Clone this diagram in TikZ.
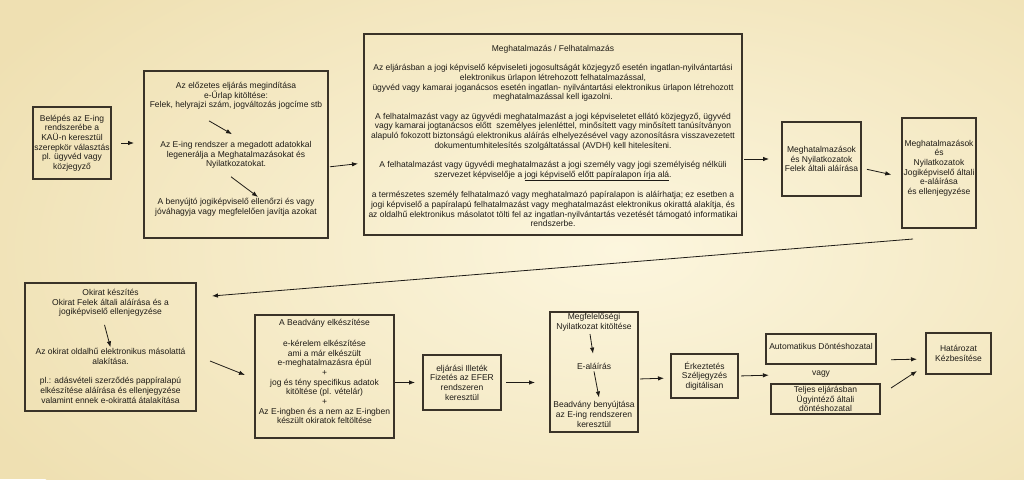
\documentclass[tikz,border=0pt]{standalone}
\usepackage{fontspec}
\setmainfont{Liberation Sans}
\usetikzlibrary{arrows.meta}
\definecolor{bgin}{HTML}{FCF6DE}
\definecolor{bgout}{HTML}{EFE0B2}
\definecolor{edgec}{HTML}{3A3328}
\definecolor{ink}{HTML}{1E1B16}
\begin{document}
\begin{tikzpicture}[x=1pt,y=-1pt,
  box/.style={draw=edgec,line width=1.3pt,rectangle,inner sep=0pt,outer sep=0pt,
    text=ink,align=center,font=\fontsize{8.5}{9.65}\selectfont},
  txt/.style={text=ink,align=center,inner sep=0pt,font=\fontsize{8.5}{9.65}\selectfont},
  arr/.style={draw=ink,line width=0.8pt,-{Latex[length=6pt,width=4.5pt]}},
]
\useasboundingbox (0,0) rectangle (1024,479);
\begin{scope}
\clip (0,0) rectangle (1024,479);
\fill[bgout] (0,0) rectangle (1024,479);
\shade[inner color=bgin,outer color=bgout] (620,250) ellipse [x radius=720, y radius=380];
\end{scope}

% top row
\node[box,minimum width=78pt,minimum height=72pt] (b1) at (72,143)
  {Belépés az E-ing\\rendszerébe a\\KAÜ-n keresztül\\szerepkör választás\\pl. ügyvéd vagy\\közjegyző};

\node[box,minimum width=184pt,minimum height=167pt] (b2) at (236,154.5) {};
\node[txt] (t2a) at (236,96) {Az előzetes eljárás megindítása\\e-Űrlap kitöltése:\\Felek, helyrajzi szám, jogváltozás jogcíme stb};
\node[txt] (t2b) at (236,155) {Az E-ing rendszer a megadott adatokkal\\legenerálja a Meghatalmazásokat és\\Nyilatkozatokat.};
\node[txt] (t2c) at (236,207) {A benyújtó jogiképviselő ellenőrzi és vagy\\jóváhagyja vagy megfelelően javítja azokat};

\node[box,minimum width=378pt,minimum height=201pt] (b3) at (553,134.5) {};
\node[txt] (t3) at (553,136) {Meghatalmazás / Felhatalmazás\\[9.67pt]
Az eljárásban a jogi képviselő képviseleti jogosultságát közjegyző esetén ingatlan-nyilvántartási\\
elektronikus ürlapon létrehozott felhatalmazással,\\
ügyvéd vagy kamarai joganácsos esetén ingatlan- nyilvántartási elektronikus ürlapon létrehozott\\
meghatalmazással kell igazolni.\\[9.67pt]
A felhatalmazást vagy az ügyvédi meghatalmazást a jogi képviseletet ellátó közjegyző, ügyvéd\\
vagy kamarai jogtanácsos előtt~ személyes jelenléttel, minősített vagy minősített tanúsítványon\\
alapuló fokozott biztonságú elektronikus aláírás elhelyezésével vagy azonosításra visszavezetett\\
dokumentumhitelesítés szolgáltatással (AVDH) kell hitelesíteni.\\[9.67pt]
A felhatalmazást vagy ügyvédi meghatalmazást a jogi személy vagy jogi személyiség nélküli\\
szervezet képviselője a \underline{jogi képviselő előtt papíralapon írja alá}.\\[9.67pt]
a természetes személy felhatalmazó vagy meghatalmazó papíralapon is aláírhatja; ez esetben a\\
jogi képviselő a papíralapú felhatalmazást vagy meghatalmazást elektronikus okirattá alakítja, és\\
az oldalhű elektronikus másolatot tölti fel az ingatlan-nyilvántartás vezetését támogató informatikai\\
rendszerbe.};

\node[box,minimum width=79pt,minimum height=74pt] (b4) at (821.5,159)
  {Meghatalmazások\\és Nyilatkozatok\\Felek általi aláírása};

\node[box,minimum width=74pt,minimum height=110pt] (b5) at (939,173) {};
\node[txt] (t5) at (939,168) {Meghatalmazások\\és\\Nyilatkozatok\\Jogiképviselő általi\\e-aláírása\\és ellenjegyzése};

% bottom row
\node[box,minimum width=171pt,minimum height=128pt] (b6) at (110.5,347) {};
\node[txt] (t6a) at (110.5,303) {Okirat készítés\\Okirat Felek általi aláírása és a\\jogiképviselő ellenjegyzése};
\node[txt] (t6b) at (110.5,356.5) {Az okirat oldalhű elektronikus másolattá\\alakítása.};
\node[txt] (t6c) at (110.5,390.5) {pl.: adásvételi szerződés pappíralapú\\elkészítése aláírása és ellenjegyzése\\valamint ennek e-okirattá átalakítása};

\node[box,minimum width=139pt,minimum height=123pt] (b7) at (324.5,376.5) {};
\node[txt] (t7a) at (324.5,323) {A Beadvány elkészítése};
\node[txt] (t7b) at (324.5,382) {e-kérelem elkészítése\\ami a már elkészült\\e-meghatalmazásra épül\\+\\jog és tény specifikus adatok\\kitöltése (pl. vételár)\\+\\Az E-ingben és a nem az E-ingben\\készült okiratok feltöltése};

\node[box,minimum width=78pt,minimum height=55pt] (b8) at (462,382.5)
  {eljárási Illeték\\Fizetés az EFER\\rendszeren\\keresztül};

\node[box,minimum width=88pt,minimum height=120pt] (b9) at (594,372) {};
\node[txt] (t9a) at (594,322) {Megfelelőségi\\Nyilatkozat kitöltése};
\node[txt] (t9b) at (594,366) {E-aláírás};
\node[txt] (t9c) at (594,414.5) {Beadvány benyújtása\\az E-ing rendszeren\\keresztül};

\node[box,minimum width=67pt,minimum height=44pt] (b10) at (704.5,376)
  {Érkeztetés\\Széljegyzés\\digitálisan};

\node[box,minimum width=110pt,minimum height=30pt] (b11) at (821,349) {};
\node[txt] (t11) at (821,346) {Automatikus Döntéshozatal};
\node[txt] (vagy) at (821,374) {vagy};
\node[box,minimum width=109pt,minimum height=30pt] (b12) at (825.5,399)
  {Teljes eljárásban\\Ügyintéző általi\\döntéshozatal};

\node[box,minimum width=65pt,minimum height=41pt] (b13) at (958.5,353.5)
  {Határozat\\Kézbesítése};

% inner arrows
\draw[arr] ([shift={(-27,11)}]t2a.south) -- ([shift={(-4,-7)}]t2b.north);
\draw[arr] ([shift={(-5,8)}]t2b.south) -- ([shift={(22,-1)}]t2c.north);
\draw[arr] ([shift={(-6,8)}]t6a.south) -- ([shift={(0,-1)}]t6b.north);
\draw[arr] ([shift={(-4,3)}]t9a.south) -- ([shift={(-1,-9)}]t9b.north);
\draw[arr] ([shift={(0,2)}]t9b.south) -- ([shift={(5,-4)}]t9c.north);

% connectors
\draw[arr,shorten <=10pt,shorten >=10pt] (b1.east) -- (b1.east -| b2.west);
\draw[arr,shorten <=2pt,shorten >=6pt] ([yshift=-12.5pt]b2.east) -- ([yshift=-28.5pt]b3.west);
\draw[arr,shorten <=2pt,shorten >=13pt] ([yshift=-24.5pt]b3.east) -- (b4.west);
\draw[arr,shorten <=6pt,shorten >=11pt] ([yshift=-9pt]b4.east) -- ([yshift=-4pt]b5.west);
\draw[arr] ([shift={(-26,11)}]b5.south) -- ([shift={(101.5,13)}]b6.north);
\draw[arr] ([shift={(14,14)}]b6.east) -- ([shift={(-10,-1.5)}]b7.west);
\draw[arr,shorten <=1pt,shorten >=8pt] (b8.west -| b7.east) -- (b8.west);
\draw[arr,shorten <=5pt,shorten >=15pt] (b8.east) -- (b8.east -| b9.west);
\draw[arr,shorten <=2pt,shorten >=7pt] ([yshift=-7pt]b9.east) -- ([yshift=-2pt]b10.west);
\draw[arr,shorten <=3pt,shorten >=43pt] (b10.east) -- (vagy.west);
\draw[arr,shorten <=15pt,shorten >=9pt] ([yshift=-11pt]b11.east) -- ([yshift=-5.5pt]b13.west);
\draw[arr] ([shift={(11,-11)}]b12.east) -- ([shift={(-9,17.5)}]b13.west);
\end{tikzpicture}
\end{document}
